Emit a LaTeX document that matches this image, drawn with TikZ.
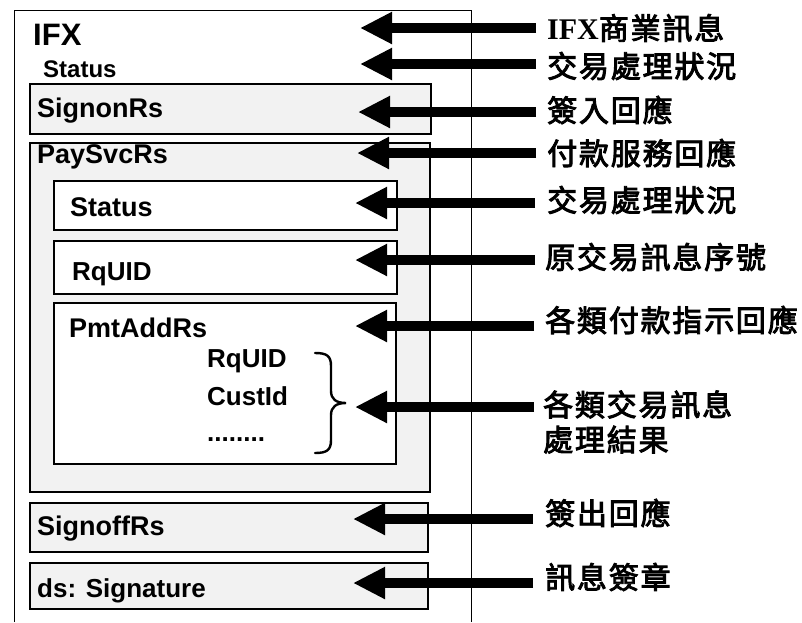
\documentclass[tikz,border=0pt]{standalone}
\usepackage{fontspec}
\setmainfont{Liberation Sans}
\newfontfamily\cjk{Noto Sans CJK TC}[LetterSpace=6, FakeBold=3]
\newfontfamily\latserif{Liberation Serif}
\usetikzlibrary{arrows.meta}
\tikzset{
  frame/.style={draw, line width=1.1pt, fill=black!5, inner sep=0pt, outer sep=0pt, anchor=north west},
  whiteframe/.style={frame, fill=white},
  outline/.style={draw, line width=1pt},
  tag/.style={font=\bfseries\fontsize{27}{31}\selectfont, anchor=base west, inner sep=0pt},
  smalltag/.style={tag, font=\bfseries\fontsize{26}{30}\selectfont},
  lbl/.style={font=\cjk\fontsize{30}{35}\selectfont, anchor=west, inner sep=0pt, align=left},
  bigarrow/.style={line width=10.5pt, -{Triangle[length=32pt,width=30pt]}},
  bracepath/.style={draw, line width=2.4pt, line cap=round}
}
\begin{document}
\begin{tikzpicture}[x=1pt,y=-1pt]
\useasboundingbox (0,0) rectangle (802,622);
% outer IFX frame (open at the bottom edge)
\draw[outline] (14,622) -- (14,10) -- (471,10) -- (471,622);
% boxes
\node[frame, minimum width=401pt, minimum height=50pt] (signon) at (30,84) {};
\node[frame, minimum width=400pt, minimum height=349pt] (paysvc) at (30,143) {};
\node[whiteframe, minimum width=343pt, minimum height=49pt] (status2) at (54,181) {};
\node[whiteframe, minimum width=343pt, minimum height=53pt] (rquid) at (54,241) {};
\node[whiteframe, minimum width=342pt, minimum height=161pt] (pmtadd) at (54,303) {};
\node[frame, minimum width=398pt, minimum height=49pt] (signoff) at (30,503) {};
\node[frame, minimum width=398pt, minimum height=46pt] (sig) at (30,563) {};
% element texts
\node[tag, font=\bfseries\fontsize{31}{35}\selectfont] (tifx) at (33,45) {IFX};
\node[tag, font=\bfseries\fontsize{24}{28}\selectfont] (tstat1) at (43,77) {Status};
\node[tag] (tsignon) at (37,117) {SignonRs};
\node[tag] (tpay) at (37,163) {PaySvcRs};
\node[tag] (tstat2) at (70,216) {Status};
\node[smalltag] (trq) at (72,280) {RqUID};
\node[tag] (tpmt) at (69,337) {PmtAddRs};
\node[smalltag] (trq2) at (207,367) {RqUID};
\node[smalltag] (tcust) at (207,405) {CustId};
\node[smalltag] (tdots) at (207,441) {........};
\node[tag] (tsignoff) at (37,535) {SignoffRs};
\node[smalltag] (tsig) at (37,597) {ds: Signature};
% brace
\draw[bracepath] (315,353) .. controls (327,353) and (331,356) .. (331,366) -- (331,391)
  .. controls (331,399) and (336,403) .. (346,403)
  .. controls (336,403) and (331,407) .. (331,415) -- (331,440)
  .. controls (331,450) and (327,453) .. (315,453);
\coordinate (bracetip) at (346,403);
% labels
\node[lbl] (l1) at (547,28) {{\latserif\bfseries IFX}商業訊息};
\node[lbl] (l2) at (547,66) {交易處理狀況};
\node[lbl] (l3) at (547,110) {簽入回應};
\node[lbl] (l4) at (547,153) {付款服務回應};
\node[lbl] (l5) at (547,200) {交易處理狀況};
\node[lbl] (l6) at (545,257) {原交易訊息序號};
\node[lbl] (l7) at (545,320) {各類付款指示回應};
\node[lbl] (l8) at (543,422) {各類交易訊息\\處理結果};
\node[lbl] (l9) at (545,513) {簽出回應};
\node[lbl] (l10) at (545,577) {訊息簽章};
% arrow ends
\coordinate (s1) at (536,28);  \coordinate (e1) at (360,28);
\coordinate (s2) at (536,64);  \coordinate (e2) at (360,64);
\coordinate (s3) at (536,112); \coordinate (e3) at (358,112);
\coordinate (s4) at (536,153); \coordinate (e4) at (357,153);
\coordinate (s5) at (535,203); \coordinate (e5) at (355,203);
\coordinate (s6) at (535,260); \coordinate (e6) at (355,260);
\coordinate (s7) at (534,326); \coordinate (e7) at (355,326);
\coordinate (s8) at (534,407); \coordinate (e8) at (355,407);
\coordinate (s9) at (533,519); \coordinate (e9) at (353,519);
\coordinate (s10) at (533,583); \coordinate (e10) at (353,583);
\foreach \i in {1,...,10} {\draw[bigarrow] (s\i) -- (e\i);}
\end{tikzpicture}
\end{document}
